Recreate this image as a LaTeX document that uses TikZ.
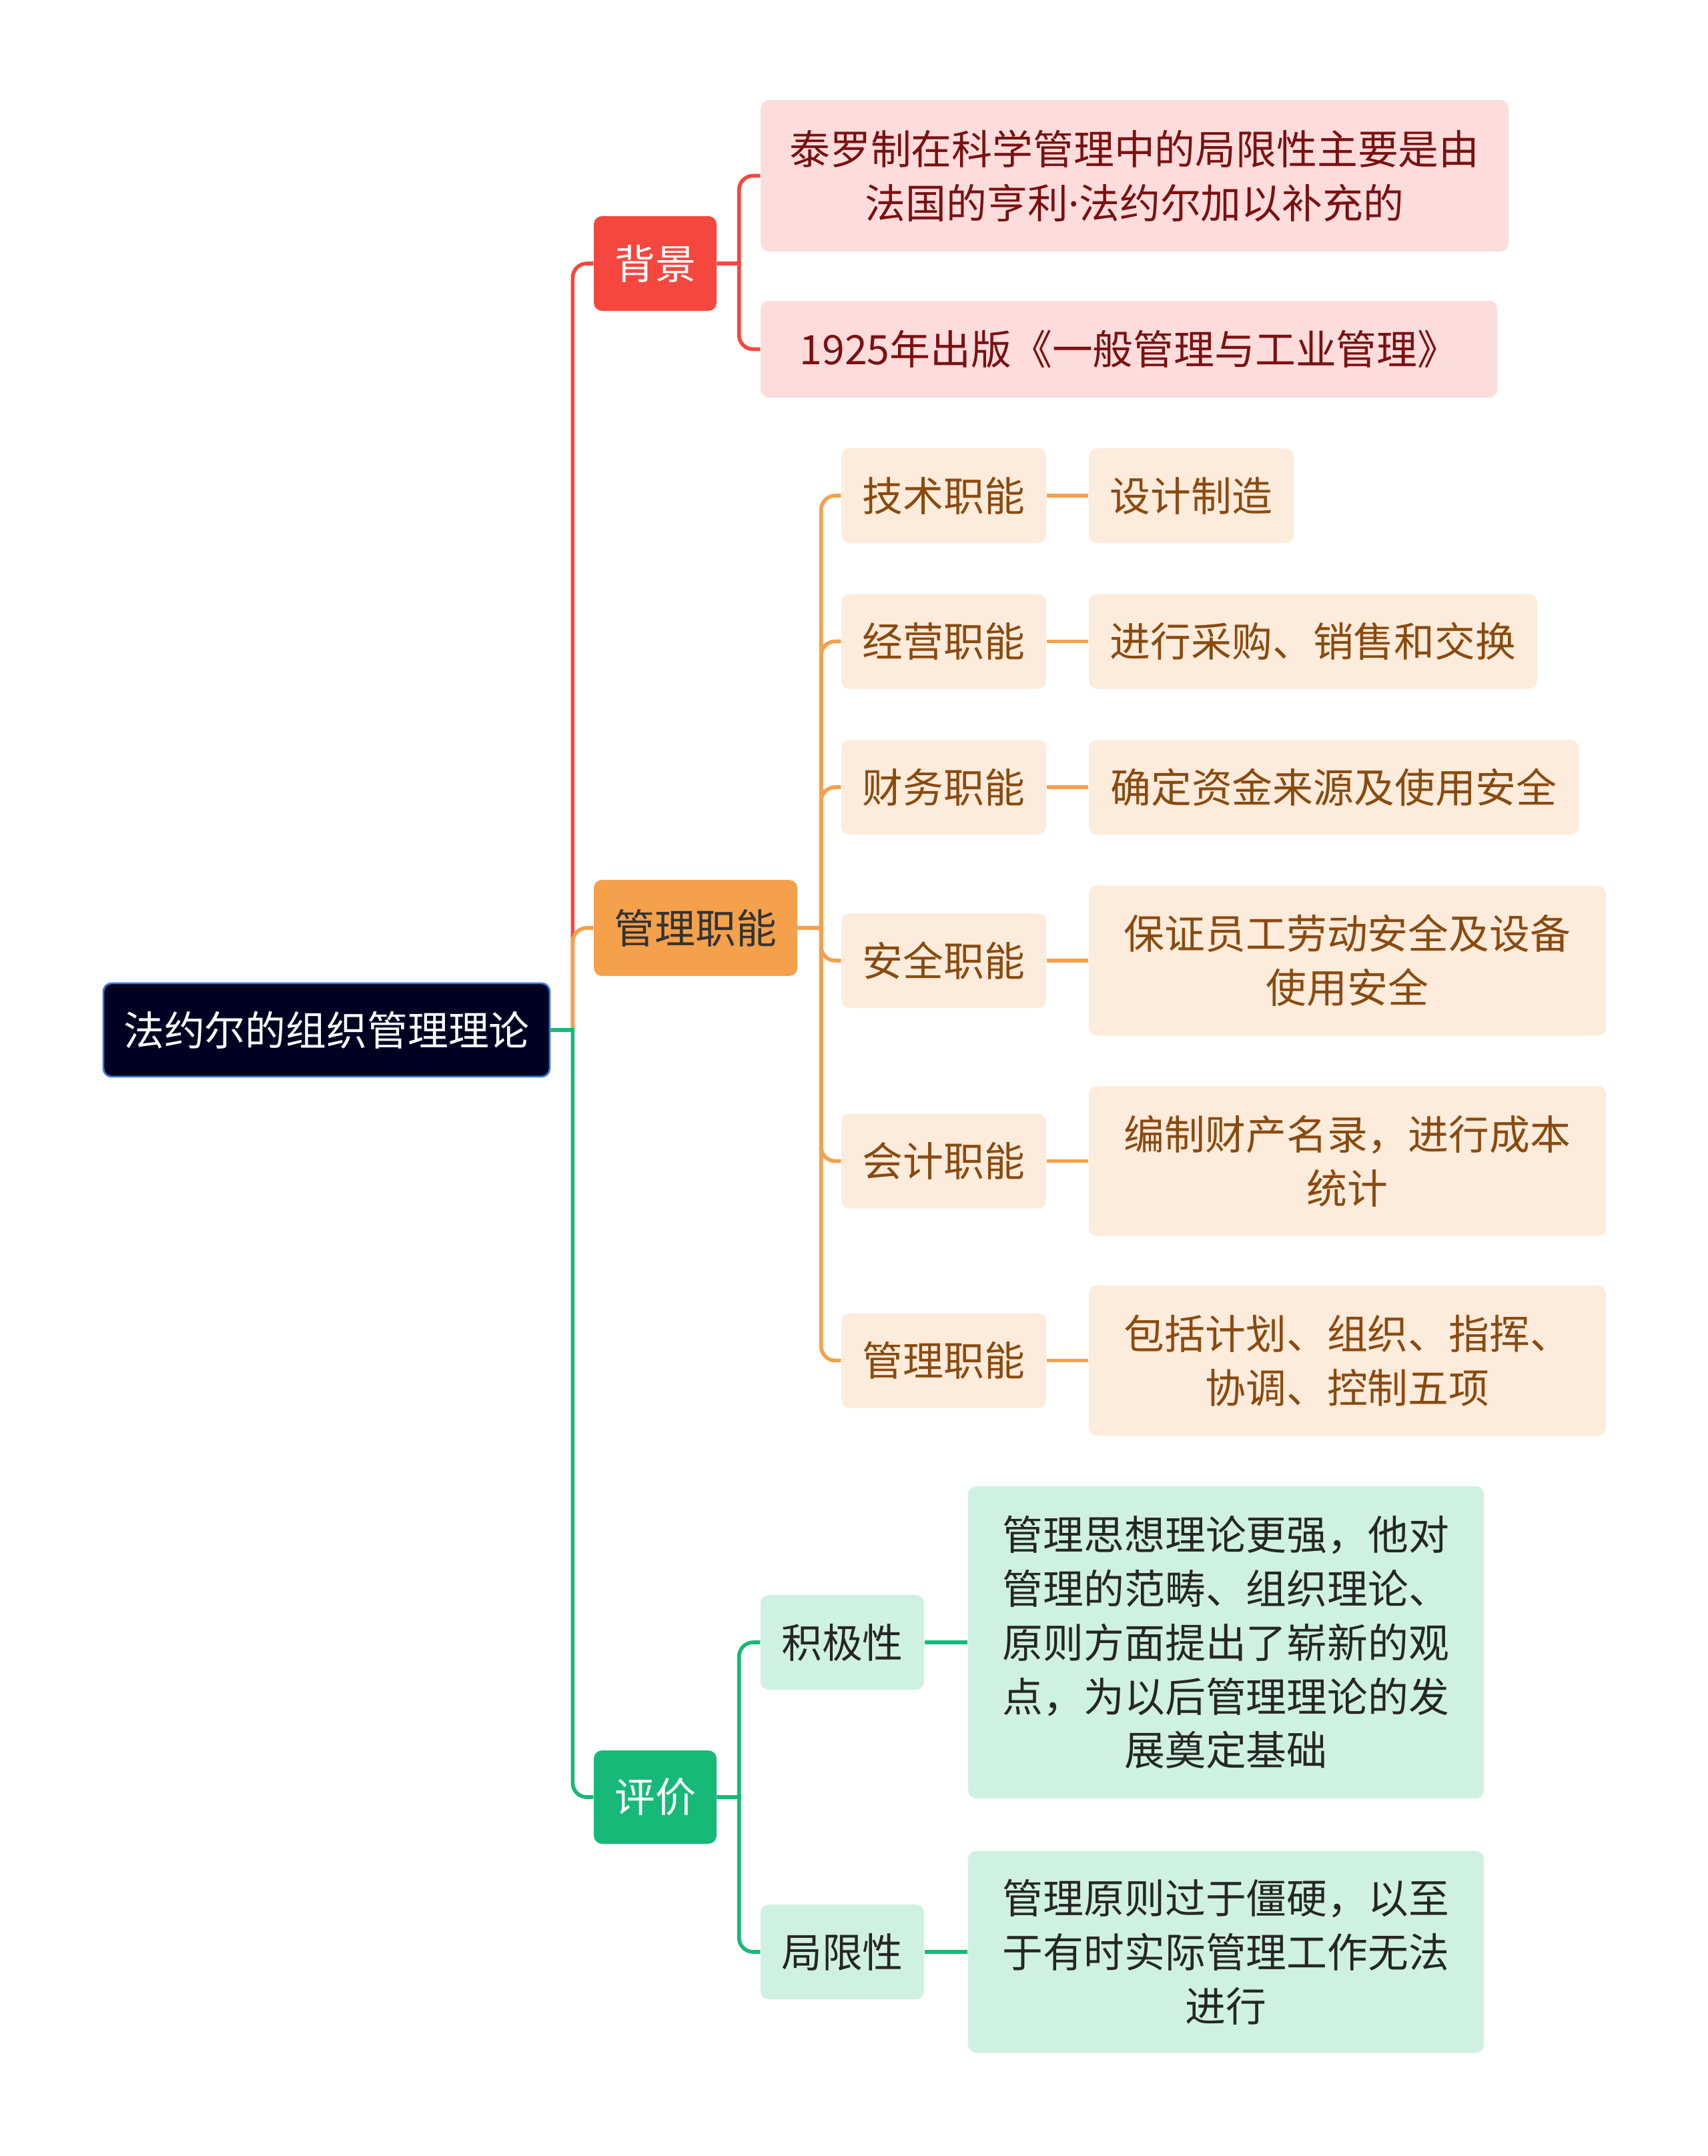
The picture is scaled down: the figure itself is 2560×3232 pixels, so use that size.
\documentclass[tikz,border=0pt]{standalone}
\usepackage{fontspec}
\setmainfont{Noto Sans CJK SC}
\newfontfamily\latinfont{Noto Sans}
\usepackage{xcolor}
\usetikzlibrary{positioning,calc}

\definecolor{rootfill}{HTML}{000022}
\definecolor{rootline}{HTML}{3A7BD5}
\definecolor{bgred}{HTML}{F5473E}
\definecolor{bglight}{HTML}{FDDCDC}
\definecolor{bgtext}{HTML}{7A1010}
\definecolor{mgorange}{HTML}{F5A04B}
\definecolor{mglight}{HTML}{FDEBDB}
\definecolor{mgtext}{HTML}{8A4A0E}
\definecolor{pjgreen}{HTML}{17B978}
\definecolor{pjlight}{HTML}{CFF1E2}

\begin{document}
\begin{tikzpicture}[x=0.01cm,y=-0.01cm,font=\fontsize{17.3}{23}\selectfont]
\tikzset{
  box/.style={rounded corners=3.5pt,align=center,inner sep=0pt},
  rootbox/.style={box,fill=rootfill,draw=rootline,line width=0.8pt,text=white},
  topbox/.style={box,text=white},
  bgbox/.style={box,fill=bglight,text=bgtext},
  mgbox/.style={box,fill=mglight,text=mgtext},
  pjbox/.style={box,fill=pjlight,text=black!85},
  conn/.style={line width=1.6pt},
}
\useasboundingbox (0,0) rectangle (2560,3232);

% root and main branches
\node[rootbox,minimum width=669*0.01cm,minimum height=140*0.01cm] (root) at (489.5,1544) {法约尔的组织管理理论};
\node[topbox,fill=bgred,minimum width=184*0.01cm,minimum height=142*0.01cm] (bg) at (982,395) {背景};
\node[topbox,fill=mgorange,text=black!80,minimum width=305*0.01cm,minimum height=144*0.01cm] (mg) at (1042.5,1391) {管理职能};
\node[topbox,fill=pjgreen,minimum width=184*0.01cm,minimum height=140*0.01cm] (pj) at (982,2694) {评价};

% background
\node[bgbox,minimum width=1121*0.01cm,minimum height=227*0.01cm] (bg1) at (1700.5,263.5) {泰罗制在科学管理中的局限性主要是由\\法国的亨利{\latinfont ·}法约尔加以补充的};
\node[bgbox,minimum width=1104*0.01cm,minimum height=145*0.01cm] (bg2) at (1692,523.5) {1925年出版《一般管理与工业管理》};

% functions
\foreach \n/\y/\t in {f1/743/技术职能,f2/961.5/经营职能,f3/1180/财务职能,f4/1440/安全职能,f5/1740.5/会计职能,f6/2039.5/管理职能}
  \node[mgbox,minimum width=307*0.01cm,minimum height=142*0.01cm] (\n) at (1414.5,\y) {\t};
\node[mgbox,minimum width=307*0.01cm,minimum height=142*0.01cm] (d1) at (1785.5,743) {设计制造};
\node[mgbox,minimum width=672*0.01cm,minimum height=142*0.01cm] (d2) at (1968,961.5) {进行采购、销售和交换};
\node[mgbox,minimum width=734*0.01cm,minimum height=142*0.01cm] (d3) at (1999,1180) {确定资金来源及使用安全};
\node[mgbox,minimum width=775*0.01cm,minimum height=225*0.01cm] (d4) at (2019.5,1440) {保证员工劳动安全及设备\\使用安全};
\node[mgbox,minimum width=775*0.01cm,minimum height=225*0.01cm] (d5) at (2019.5,1740.5) {编制财产名录，进行成本\\统计};
\node[mgbox,minimum width=775*0.01cm,minimum height=225*0.01cm] (d6) at (2019.5,2039.5) {包括计划、组织、指挥、\\协调、控制五项};

% evaluation
\node[pjbox,minimum width=245*0.01cm,minimum height=142*0.01cm] (e1) at (1262.5,2462) {积极性};
\node[pjbox,minimum width=245*0.01cm,minimum height=142*0.01cm] (e2) at (1262.5,2926) {局限性};
\node[pjbox,minimum width=773*0.01cm,minimum height=468*0.01cm] (e1d) at (1837.5,2462) {管理思想理论更强，他对\\管理的范畴、组织理论、\\原则方面提出了崭新的观\\点，为以后管理理论的发\\展奠定基础};
\node[pjbox,minimum width=773*0.01cm,minimum height=303*0.01cm] (e2d) at (1837.5,2926) {管理原则过于僵硬，以至\\于有时实际管理工作无法\\进行};

% connectors
\draw[conn,bgred] (root.east) -- ++(33,0) [rounded corners=6pt] |- (bg.west);
\draw[conn,mgorange] (root.east) -- ++(33,0) [rounded corners=6pt] |- (mg.west);
\draw[conn,pjgreen] (root.east) -- ++(33,0) [rounded corners=6pt] |- (pj.west);
\foreach \c in {bg1,bg2}
  \draw[conn,bgred] (bg.east) -- ++(33,0) [rounded corners=6pt] |- (\c.west);
\foreach \c in {f1,f2,f3,f4,f5,f6}
  \draw[conn,mgorange] (mg.east) -- ++(35,0) [rounded corners=6pt] |- (\c.west);
\foreach \a/\b in {f1/d1,f2/d2,f3/d3,f4/d4,f5/d5,f6/d6}
  \draw[conn,mgorange] (\a.east) -- (\a.east -| \b.west);
\draw[conn,pjgreen] (e1.east) -- (e1.east -| e1d.west);
\draw[conn,pjgreen] (e2.east) -- (e2.east -| e2d.west);
\foreach \c in {e1,e2}
  \draw[conn,pjgreen] (pj.east) -- ++(33,0) [rounded corners=6pt] |- (\c.west);
\end{tikzpicture}
\end{document}
